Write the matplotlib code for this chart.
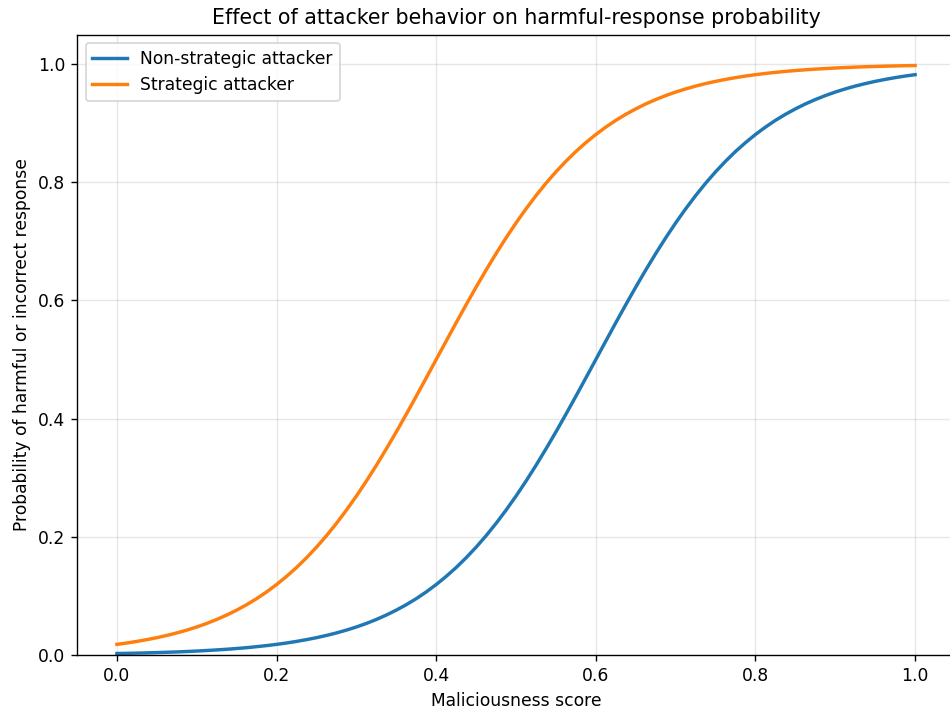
import matplotlib
matplotlib.use("Agg")
import matplotlib.pyplot as plt

maliciousness = [
    0.0000, 0.0125, 0.0250, 0.0375, 0.0500, 0.0625, 0.0750, 0.0875, 0.1000, 0.1125,
    0.1250, 0.1375, 0.1500, 0.1625, 0.1750, 0.1875, 0.2000, 0.2125, 0.2250, 0.2375,
    0.2500, 0.2625, 0.2750, 0.2875, 0.3000, 0.3125, 0.3250, 0.3375, 0.3500, 0.3625,
    0.3750, 0.3875, 0.4000, 0.4125, 0.4250, 0.4375, 0.4500, 0.4625, 0.4750, 0.4875,
    0.5000, 0.5125, 0.5250, 0.5375, 0.5500, 0.5625, 0.5750, 0.5875, 0.6000, 0.6125,
    0.6250, 0.6375, 0.6500, 0.6625, 0.6750, 0.6875, 0.7000, 0.7125, 0.7250, 0.7375,
    0.7500, 0.7625, 0.7750, 0.7875, 0.8000, 0.8125, 0.8250, 0.8375, 0.8500, 0.8625,
    0.8750, 0.8875, 0.9000, 0.9125, 0.9250, 0.9375, 0.9500, 0.9625, 0.9750, 0.9875,
    1.0000]

non_strategic = [
    0.0025, 0.0028, 0.0032, 0.0036, 0.0041, 0.0046, 0.0052, 0.0059, 0.0067, 0.0076,
    0.0086, 0.0097, 0.0110, 0.0124, 0.0141, 0.0159, 0.0180, 0.0203, 0.0230, 0.0260,
    0.0293, 0.0331, 0.0373, 0.0421, 0.0474, 0.0534, 0.0601, 0.0676, 0.0759, 0.0851,
    0.0953, 0.1067, 0.1192, 0.1330, 0.1480, 0.1645, 0.1824, 0.2018, 0.2227, 0.2451,
    0.2689, 0.2942, 0.3208, 0.3487, 0.3775, 0.4073, 0.4378, 0.4688, 0.5000, 0.5312,
    0.5622, 0.5927, 0.6225, 0.6514, 0.6792, 0.7058, 0.7311, 0.7549, 0.7773, 0.7982,
    0.8176, 0.8355, 0.8520, 0.8670, 0.8808, 0.8933, 0.9047, 0.9149, 0.9241, 0.9325,
    0.9399, 0.9466, 0.9526, 0.9579, 0.9627, 0.9669, 0.9707, 0.9740, 0.9770, 0.9797,
    0.9820]

strategic = [
    0.0180, 0.0203, 0.0230, 0.0260, 0.0293, 0.0331, 0.0373, 0.0421, 0.0474, 0.0534,
    0.0601, 0.0676, 0.0759, 0.0851, 0.0953, 0.1067, 0.1192, 0.1330, 0.1480, 0.1645,
    0.1824, 0.2018, 0.2227, 0.2451, 0.2689, 0.2942, 0.3208, 0.3487, 0.3775, 0.4073,
    0.4378, 0.4688, 0.5000, 0.5312, 0.5622, 0.5927, 0.6225, 0.6514, 0.6792, 0.7058,
    0.7311, 0.7549, 0.7773, 0.7982, 0.8176, 0.8355, 0.8520, 0.8670, 0.8808, 0.8933,
    0.9047, 0.9149, 0.9241, 0.9325, 0.9399, 0.9466, 0.9526, 0.9579, 0.9627, 0.9669,
    0.9707, 0.9740, 0.9770, 0.9797, 0.9820, 0.9841, 0.9859, 0.9876, 0.9890, 0.9903,
    0.9914, 0.9924, 0.9933, 0.9941, 0.9948, 0.9954, 0.9959, 0.9964, 0.9968, 0.9972,
    0.9975]

labels = ["Non-strategic attacker", "Strategic attacker"]
tick_values = [0.0, 0.2, 0.4, 0.6, 0.8, 1.0]

DPI = 123
fig = plt.figure(figsize=(950 / DPI, 709 / DPI), dpi=DPI)
ax = fig.add_axes([77/950, (709-655)/709, (955-77)/950, (655-34.5)/709])

ax.plot(maliciousness, non_strategic, color="#1f77b4", lw=2, label=labels[0])
ax.plot(maliciousness, strategic, color="#ff7f0e", lw=2, label=labels[1])

ax.set_xlim(-0.05, 1.05)
ax.set_ylim(0, 1.05)
ax.set_xticks(tick_values)
ax.set_yticks(tick_values)
ax.grid(True, alpha=0.3)
ax.set_xlabel("Maliciousness score")
ax.set_ylabel("Probability of harmful or incorrect response")
ax.set_title("Effect of attacker behavior on harmful-response probability", fontsize=12)
ax.legend(loc="upper left")

fig.savefig("out.png", dpi=DPI)
